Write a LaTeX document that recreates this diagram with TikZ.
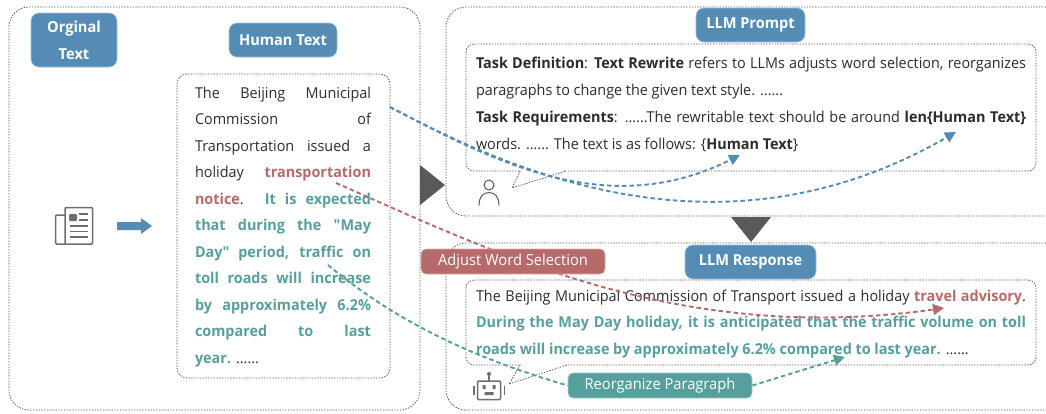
\documentclass[tikz,border=0pt]{standalone}
\usepackage{fontspec}
\setmainfont{Open Sans}[FakeStretch=0.96]
\newfontfamily\qfont{Open Sans}[FakeStretch=0.96]
\usetikzlibrary{arrows.meta}
\definecolor{cblue}{HTML}{558CB6}
\definecolor{cred}{HTML}{B76A6A}
\definecolor{cteal}{HTML}{569F9D}
\definecolor{cdark}{HTML}{595959}
\definecolor{ctext}{HTML}{2C2C2C}
\definecolor{cicon}{HTML}{6E6E6E}
\pgfdeclarelayer{arrowlayer}
\pgfdeclarelayer{pilllayer}
\pgfsetlayers{main,arrowlayer,pilllayer}
\newcommand{\jl}[2]{\makebox[#1pt][s]{#2}}
\newcommand{\rd}[1]{\textcolor{cred}{\textbf{#1}}}
\newcommand{\tl}[1]{\textcolor{cteal}{\textbf{#1}}}
\tikzset{
  frame/.style={draw=cdark, line width=0.8pt, dash pattern=on 1.4pt off 1.4pt, rounded corners=#1},
  frame/.default=12pt,
  pill/.style={fill=#1, draw=#1!55!white, line width=0.6pt, rounded corners=8pt, text=white, font=\fontsize{15.2}{27}\selectfont\bfseries, align=center, inner sep=0pt},
  tag/.style={fill=#1, draw=#1!55!white, line width=0.6pt, rounded corners=5pt, text=white, font=\fontsize{15.3}{18}\selectfont, inner sep=0pt},
  body/.style={text=ctext, inner sep=0pt, align=left, font=\fontsize{15}{#1}\selectfont},
  conn/.style={draw=#1, line width=1.9pt, dash pattern=on 4.5pt off 3pt, -{Triangle[length=11pt,width=11pt]}},
  connplain/.style={draw=#1, line width=1.9pt, dash pattern=on 4.5pt off 3pt},
  icon/.style={draw=cicon, line width=1.5pt, rounded corners=1pt}
}
\begin{document}
\begin{tikzpicture}[x=1pt,y=-1pt]
\useasboundingbox (0,0) rectangle (1046,413);
% outer frames
\node[frame=20pt, minimum width=411pt, minimum height=403pt, inner sep=0pt] (left) at (214.5,208.5) {};
\draw[frame=20pt] (1046,7) -- (446,7) -- (446,216) -- (1046,216);
\draw[frame=20pt] (1046,243) -- (446,243) -- (446,410) -- (1046,410);
% inner boxes
\node[frame=10pt, minimum width=213pt, minimum height=304pt, inner sep=0pt] (humanbox) at (283.5,226) {};
\node[frame=8pt, minimum width=570pt, minimum height=127pt, inner sep=0pt] (promptbox) at (751,107.5) {};
\node[frame=8pt, minimum width=570pt, minimum height=85pt, inner sep=0pt] (respbox) at (751,322.5) {};
% callout tails
\fill[white] (521,169.5) rectangle (565,171.5);
\fill[white] (521,364) rectangle (566,366);
\draw[frame=0pt] (520,171) -- (512,188) -- (566,171);
\draw[frame=0pt] (520,365) -- (509,384) -- (567,365);
% texts
\node[body=26.5pt, anchor=center] (humantext) at (283,227) {%
\jl{176}{The Beijing Municipal}\\
\jl{176}{Commission of}\\
\jl{176}{Transportation issued a}\\
\jl{176}{holiday \rd{transportation}}\\
\jl{176}{\rd{notice}. \tl{It is expected}}\\
\jl{176}{\tl{that during the {\qfont"}May}}\\
\jl{176}{\tl{Day{\qfont"} period, traffic on}}\\
\jl{176}{\tl{toll roads will increase}}\\
\jl{176}{\tl{by approximately 6.2\%}}\\
\jl{176}{\tl{compared to last}}\\
\makebox[176pt][l]{\tl{year.} ......}};
\node[body=27pt, anchor=center] (prompttext) at (751,104.5) {%
\jl{550}{\textbf{Task Definition}: \textbf{Text Rewrite} refers to LLMs adjusts word selection, reorganizes}\\
\makebox[550pt][l]{paragraphs to change the given text style. ......}\\
\jl{550}{\textbf{Task Requirements}: ......The rewritable text should be around \textbf{len\{Human Text\}}}\\
\makebox[550pt][l]{words. ...... The text is as follows: \{\textbf{Human Text}\}}};
\node[body=26.5pt, anchor=center] (resptext) at (751,324) {%
\jl{550}{The Beijing Municipal Commission of Transport issued a holiday \rd{travel advisory}.}\\
\jl{550}{\tl{During the May Day holiday, it is anticipated that the traffic volume on toll}}\\
\makebox[550pt][l]{\tl{roads will increase by approximately 6.2\% compared to last year.} ......}};
% pills and tags
\begin{pgfonlayer}{pilllayer}
\node[pill=cblue, minimum width=86pt, minimum height=54pt] (orig) at (74,40) {Orginal\\Text};
\node[pill=cblue, minimum width=108pt, minimum height=34pt] (human) at (283,40) {Human Text};
\node[pill=cblue, minimum width=109pt, minimum height=34pt] (prompt) at (750.5,25) {LLM Prompt};
\node[pill=cblue, minimum width=131pt, minimum height=34pt] (resp) at (750.5,262) {LLM Response};
\node[tag=cred, minimum width=184pt, minimum height=25pt] (adjust) at (513,261.5) {Adjust Word Selection};
\node[tag=cteal, minimum width=184pt, minimum height=25pt] (reorg) at (660,385.5) {Reorganize Paragraph};
\end{pgfonlayer}
% named free ends
\coordinate (bluestart) at (390,107);
\coordinate (bluetipa) at (740,155);
\coordinate (bluetipb) at (956,132);
\coordinate (redstart) at (336,183);
\coordinate (redtip) at (944,308);
\coordinate (tealstart) at (328,265);
\coordinate (tealtip) at (845,357);
% connectors
\begin{pgfonlayer}{arrowlayer}
\draw[conn=cblue] (bluestart) .. controls (500,165) and (610,220) .. (bluetipa);
\draw[conn=cblue] (bluestart) .. controls (510,170) and (720,268) .. (bluetipb);
\draw[conn=cred] (redstart) .. controls (500,255) and (680,345) .. (redtip);
\draw[connplain=cteal] (tealstart) .. controls (400,325) and (480,360) .. (reorg.west);
\draw[conn=cteal] (reorg.east) -- (tealtip);
\end{pgfonlayer}
% big triangles
\fill[cdark] (420,165) -- (445,185) -- (420,205) -- cycle;
\fill[cdark] (731,217) -- (771,217) -- (751,242) -- cycle;
% blue block arrow
\fill[cblue] (117,222) -- (141,222) -- (141,218) -- (152,226) -- (141,234) -- (141,230) -- (117,230) -- cycle;
% newspaper icon
\draw[icon] (65,215) -- (55.5,215) -- (55.5,244) -- (92.5,244) -- (92.5,207.5) -- (65,207.5) -- (65,244);
\fill[cicon, rounded corners=1pt] (69,214) rectangle (77,221);
\draw[cicon, line width=1.4pt] (79,214) -- (88,214) (79,220) -- (88,220) (70,226) -- (88,226) (70,231.5) -- (88,231.5) (70,237) -- (88,237);
% user icon
\draw[cicon!80!black, line width=1pt] (489,185) circle (5pt);
\draw[cicon!80!black, line width=1pt] (479,205.5) .. controls (479,197) and (483,192.5) .. (489,192.5) .. controls (495,192.5) and (499,197) .. (499,205.5);
% robot icon
\draw[icon] (477.5,381) rectangle (500.5,399.5);
\fill[cicon] (489,374) circle (2pt);
\draw[cicon, line width=1.4pt] (489,374) -- (489,381);
\draw[cicon, line width=1.5pt] (474,386) -- (474,395) (504.5,386) -- (504.5,395);
\fill[cicon] (482.5,385) rectangle (485.5,389) (492.5,385) rectangle (495.5,389) (484.5,392) rectangle (493.5,395);
\end{tikzpicture}
\end{document}
